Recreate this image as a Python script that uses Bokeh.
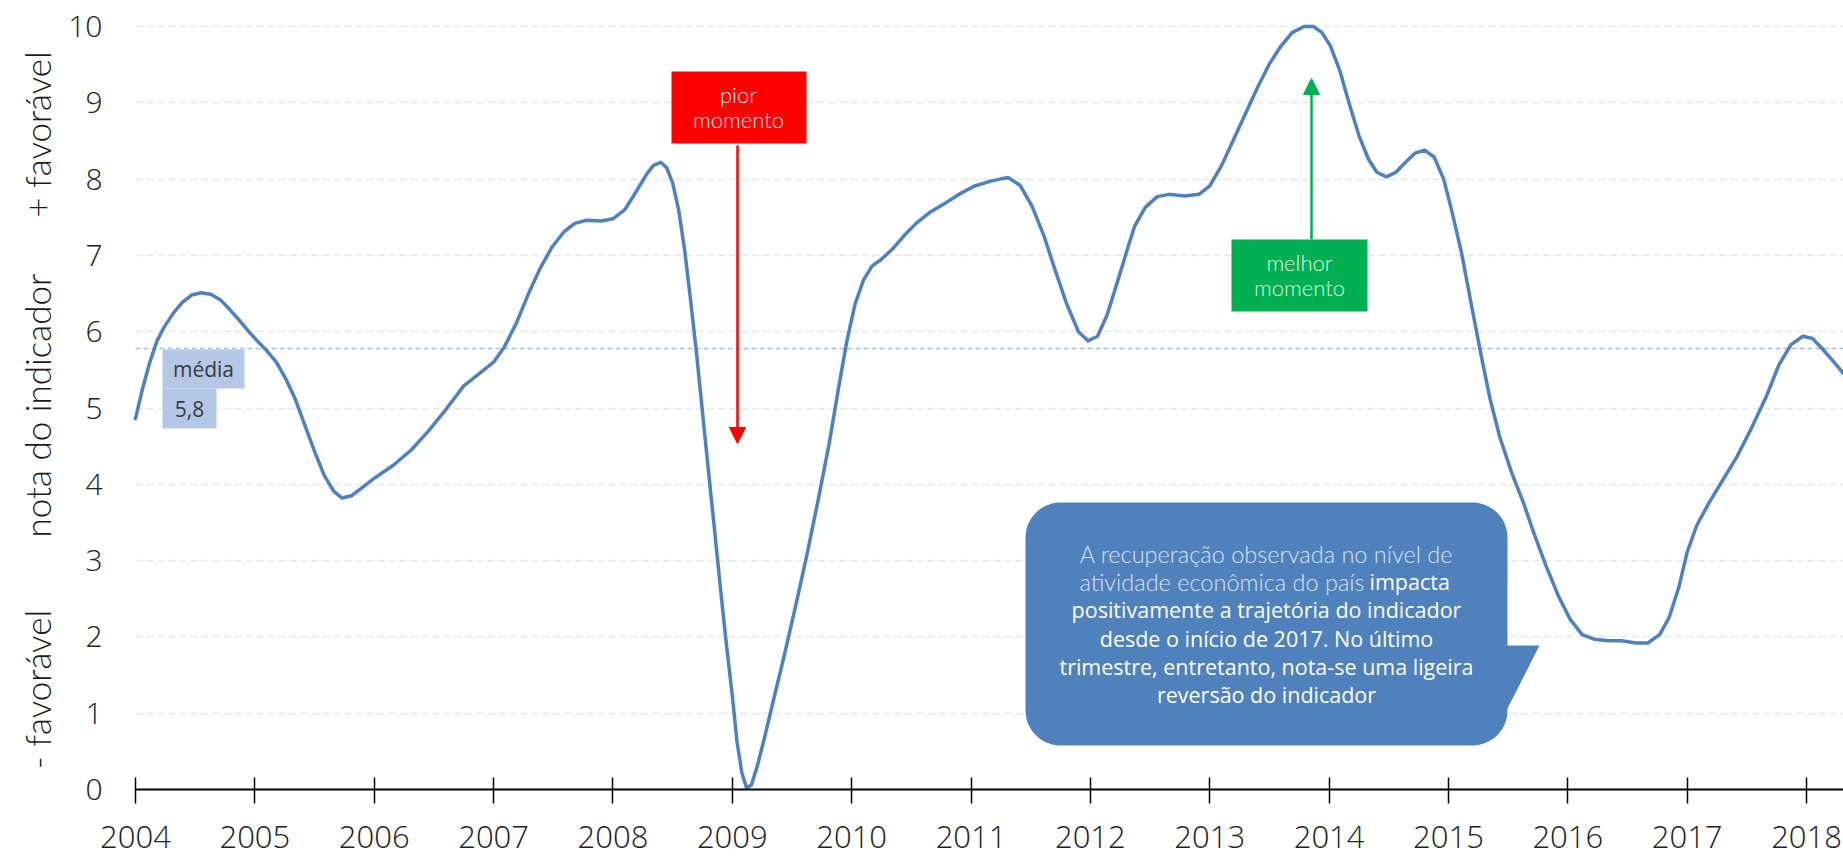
import math
from bokeh.plotting import figure
from bokeh.models import Range1d, FixedTicker, Label, Arrow, NormalHead, Grid
from bokeh.embed import file_html
from bokeh.resources import INLINE

# ---------------- data ----------------
years = [2004.00, 2004.06, 2004.12, 2004.18, 2004.24, 2004.32, 2004.39, 2004.47, 2004.55, 2004.63,
         2004.71, 2004.79, 2004.87, 2004.95, 2005.02, 2005.10, 2005.18, 2005.26, 2005.34, 2005.42,
         2005.50, 2005.58, 2005.66, 2005.73, 2005.81, 2005.91, 2006.01, 2006.16, 2006.31, 2006.45,
         2006.60, 2006.75, 2006.88, 2007.00, 2007.09, 2007.19, 2007.29, 2007.39, 2007.49, 2007.59,
         2007.68, 2007.78, 2007.90, 2008.00, 2008.10, 2008.20, 2008.28, 2008.34, 2008.40, 2008.45,
         2008.50, 2008.55, 2008.60, 2008.65, 2008.70, 2008.75, 2008.80, 2008.85, 2008.90, 2008.95,
         2009.00, 2009.04, 2009.08, 2009.12, 2009.16, 2009.21, 2009.27, 2009.34, 2009.43, 2009.53,
         2009.63, 2009.72, 2009.81, 2009.89, 2009.96, 2010.03, 2010.10, 2010.17, 2010.25, 2010.34,
         2010.44, 2010.54, 2010.66, 2010.79, 2010.92, 2011.03, 2011.18, 2011.31, 2011.41, 2011.51,
         2011.61, 2011.70, 2011.80, 2011.90, 2011.98, 2012.06, 2012.14, 2012.22, 2012.30, 2012.37,
         2012.46, 2012.56, 2012.66, 2012.79, 2012.91, 2013.00, 2013.10, 2013.20, 2013.30, 2013.40,
         2013.50, 2013.60, 2013.69, 2013.79, 2013.87, 2013.94, 2014.01, 2014.09, 2014.17, 2014.25,
         2014.33, 2014.40, 2014.48, 2014.56, 2014.64, 2014.72, 2014.80, 2014.88, 2014.96, 2015.03,
         2015.11, 2015.19, 2015.27, 2015.35, 2015.43, 2015.53, 2015.63, 2015.72, 2015.82, 2015.92,
         2016.02, 2016.12, 2016.22, 2016.34, 2016.45, 2016.57, 2016.67, 2016.77, 2016.85, 2016.93,
         2017.00, 2017.08, 2017.18, 2017.30, 2017.42, 2017.54, 2017.66, 2017.77, 2017.87, 2017.97,
         2018.05, 2018.13, 2018.23, 2018.31]
scores = [4.86, 5.26, 5.60, 5.88, 6.06, 6.25, 6.38, 6.48, 6.51, 6.49,
          6.42, 6.29, 6.15, 6.00, 5.88, 5.75, 5.60, 5.38, 5.11, 4.77,
          4.43, 4.12, 3.91, 3.82, 3.85, 3.97, 4.09, 4.25, 4.45, 4.69,
          4.98, 5.29, 5.45, 5.60, 5.80, 6.11, 6.49, 6.83, 7.11, 7.31,
          7.42, 7.46, 7.45, 7.48, 7.60, 7.85, 8.06, 8.18, 8.22, 8.15,
          7.95, 7.60, 7.08, 6.42, 5.72, 4.95, 4.18, 3.42, 2.65, 1.91,
          1.23, 0.62, 0.22, 0.02, 0.06, 0.31, 0.68, 1.14, 1.72, 2.40,
          3.11, 3.80, 4.52, 5.26, 5.88, 6.37, 6.68, 6.86, 6.95, 7.08,
          7.26, 7.42, 7.57, 7.69, 7.82, 7.91, 7.98, 8.02, 7.92, 7.65,
          7.26, 6.83, 6.37, 6.00, 5.88, 5.94, 6.22, 6.62, 7.03, 7.38,
          7.63, 7.77, 7.80, 7.78, 7.80, 7.91, 8.18, 8.52, 8.86, 9.20,
          9.51, 9.75, 9.92, 10.00, 10.00, 9.92, 9.75, 9.42, 8.98, 8.57,
          8.26, 8.09, 8.03, 8.09, 8.22, 8.34, 8.38, 8.29, 8.00, 7.57,
          7.03, 6.37, 5.72, 5.11, 4.62, 4.15, 3.75, 3.34, 2.92, 2.54,
          2.23, 2.03, 1.97, 1.95, 1.95, 1.92, 1.92, 2.03, 2.26, 2.65,
          3.11, 3.46, 3.75, 4.06, 4.37, 4.74, 5.14, 5.57, 5.83, 5.94,
          5.91, 5.78, 5.60, 5.45]
mean_value = 5.78
mean_text = "5,8"
x_tick_years = list(range(2004, 2019))
y_tick_values = list(range(0, 11))
grid_values = list(range(1, 11))

callout_light = ["A recuperação observada no nível de", "atividade econômica do país"]
callout_bold = ["impacta", "positivamente a trajetória do indicador",
                "desde o início de 2017. No último",
                "trimestre, entretanto, nota-se uma ligeira", "reversão do indicador"]

# ---------------- layout (page pixels -> data) ----------------
W, H = 1843, 858
KX, KY = 119.36, 76.3          # px per year, px per point
X_AX, Y_AX = 135, 789          # page position of (2004, 0)
X_START = x_tick_years[0] - X_AX / KX
X_END = x_tick_years[0] + (W - X_AX) / KX
Y_START = -(H - Y_AX) / KY
Y_END = Y_AX / KY

def dx(px):
    return x_tick_years[0] + (px - X_AX) / KX

def dy(py):
    return (Y_AX - py) / KY

LIGHT = "Lato Light"
TICKF = "Open Sans Light"
REG = "Open Sans"
TXT = "#222222"

p = figure(width=W, height=H, x_range=Range1d(X_START, X_END), y_range=Range1d(Y_START, Y_END),
           output_backend="svg", toolbar_location=None,
           min_border_left=0, min_border_right=0, min_border_top=0, min_border_bottom=0)
p.outline_line_color = None
p.background_fill_color = "white"
p.border_fill_color = "white"

# grid
p.xgrid.visible = False
if "cross_bounds" in Grid.properties():
    p.ygrid.ticker = FixedTicker(ticks=grid_values)
    p.ygrid.grid_line_color = "#e6e6e6"
    p.ygrid.grid_line_dash = "7 4"
    p.ygrid.grid_line_width = 1.5
    p.ygrid.cross_bounds = (x_tick_years[0], X_END)
else:
    p.ygrid.visible = False
    p.segment(x0=[x_tick_years[0]] * len(grid_values), x1=[X_END] * len(grid_values),
              y0=grid_values, y1=grid_values, line_color="#e6e6e6", line_dash="7 4", line_width=1.5)

# x axis (fixed at y = 0)
p.xaxis.fixed_location = 0
p.xaxis.bounds = (x_tick_years[0], X_END)
p.xaxis.ticker = FixedTicker(ticks=x_tick_years)
p.xaxis.major_label_overrides = {y: str(y) for y in x_tick_years}
p.xaxis.axis_line_color = "black"
p.xaxis.axis_line_width = 2
p.xaxis.major_tick_line_color = "black"
p.xaxis.major_tick_line_width = 1.5
p.xaxis.major_tick_in = 12
p.xaxis.major_tick_out = 14
p.xaxis.minor_tick_line_color = None
p.xaxis.major_label_text_font = TICKF
p.xaxis.major_label_text_font_size = "31px"
p.xaxis.major_label_text_color = TXT
p.xaxis.major_label_standoff = 22

# y axis (fixed at 2004)
p.yaxis.fixed_location = x_tick_years[0]
p.yaxis.bounds = (y_tick_values[0], y_tick_values[-1])
p.yaxis.ticker = FixedTicker(ticks=y_tick_values)
p.yaxis.axis_line_color = None
p.yaxis.major_tick_line_color = None
p.yaxis.minor_tick_line_color = None
p.yaxis.major_tick_out = 0
p.yaxis.major_tick_in = 0
p.yaxis.major_label_text_font = TICKF
p.yaxis.major_label_text_font_size = "30px"
p.yaxis.major_label_text_color = TXT
p.yaxis.major_label_standoff = 33

# axis titles
for txt, py in [("+ favorável", 134), ("nota do indicador", 405), ("- favorável", 689)]:
    p.add_layout(Label(x=dx(36), y=dy(py), text=txt, angle=math.pi / 2,
                       text_align="center", text_baseline="middle",
                       text_font=LIGHT, text_font_size="35px", text_color="#1a1a1a"))

# mean line
p.line(x=[x_tick_years[0], X_END], y=[mean_value, mean_value], line_color="#a6c0e4",
       line_dash="5 3", line_width=1.5)

# series
p.line(years, scores, line_color="#4f81bd", line_width=3.5, line_join="round", line_cap="round")

# média boxes
p.quad(left=[dx(162), dx(162)], right=[dx(244), dx(216)], top=[dy(349), dy(388)],
       bottom=[dy(388), dy(428)], fill_color="#b4c7e7", line_color=None)
p.add_layout(Label(x=dx(203), y=dy(368), text="média", text_align="center", text_baseline="middle",
                   text_font=REG, text_font_size="21px", text_color="#3a3a3a"))
p.add_layout(Label(x=dx(189), y=dy(408), text=mean_text, text_align="center", text_baseline="middle",
                   text_font=REG, text_font_size="21px", text_color="#3a3a3a"))

# pior momento
p.quad(left=[dx(671)], right=[dx(806)], top=[dy(71)], bottom=[dy(143)], fill_color="#ff0000", line_color=None)
for txt, py in [("pior", 94), ("momento", 119)]:
    p.add_layout(Label(x=dx(738), y=dy(py), text=txt, text_align="center", text_baseline="middle",
                       text_font=LIGHT, text_font_size="22px", text_color="#ffe6e6"))
p.add_layout(Arrow(x_start=dx(737), y_start=dy(145), x_end=dx(737), y_end=dy(443),
                   line_color="#ff0000", line_width=2.5,
                   end=NormalHead(size=16, fill_color="#ff0000", line_color="#ff0000")))

# melhor momento
p.quad(left=[dx(1231)], right=[dx(1367)], top=[dy(239)], bottom=[dy(311)], fill_color="#00b050", line_color=None)
for txt, py in [("melhor", 262), ("momento", 287)]:
    p.add_layout(Label(x=dx(1299), y=dy(py), text=txt, text_align="center", text_baseline="middle",
                       text_font=LIGHT, text_font_size="22px", text_color="#dff5e7"))
p.add_layout(Arrow(x_start=dx(1311), y_start=dy(239), x_end=dx(1311), y_end=dy(78),
                   line_color="#00b050", line_width=2.5,
                   end=NormalHead(size=16, fill_color="#00b050", line_color="#00b050")))

# callout bubble
L_, R_, T_, B_, r = 1025, 1507, 502, 745, 35
pts = []
def arc(cx, cy, a0, a1, n=12):
    for i in range(n + 1):
        a = math.radians(a0 + (a1 - a0) * i / n)
        pts.append((cx + r * math.cos(a), cy + r * math.sin(a)))
arc(R_ - r, T_ + r, -90, 0)
pts += [(R_, 645), (1539, 645), (R_, 708)]
arc(R_ - r, B_ - r, 0, 90)
arc(L_ + r, B_ - r, 90, 180)
arc(L_ + r, T_ + r, 180, 270)
p.patch([dx(a) for a, b in pts], [dy(b) for a, b in pts], fill_color="#4f81bd", line_color=None)

line_y = [553, 581, 609, 638, 666, 694]
cx = 1266
p.add_layout(Label(x=dx(cx), y=dy(line_y[0]), text=callout_light[0], text_align="center",
                   text_baseline="middle", text_font=LIGHT, text_font_size="23.5px", text_color="#d9e3f0"))
p.add_layout(Label(x=dx(1364), y=dy(line_y[1]), text=callout_light[1], text_align="right",
                   text_baseline="middle", text_font=LIGHT, text_font_size="23.5px", text_color="#d9e3f0"))
p.add_layout(Label(x=dx(1369), y=dy(line_y[1]), text=callout_bold[0], text_align="left",
                   text_baseline="middle", text_font=REG, text_font_size="21.5px", text_color="white"))
for i, txt in enumerate(callout_bold[1:]):
    p.add_layout(Label(x=dx(cx), y=dy(line_y[i + 2]), text=txt, text_align="center",
                       text_baseline="middle", text_font=REG, text_font_size="21.5px", text_color="white"))

open("out.html", "w").write(file_html(p, INLINE))
